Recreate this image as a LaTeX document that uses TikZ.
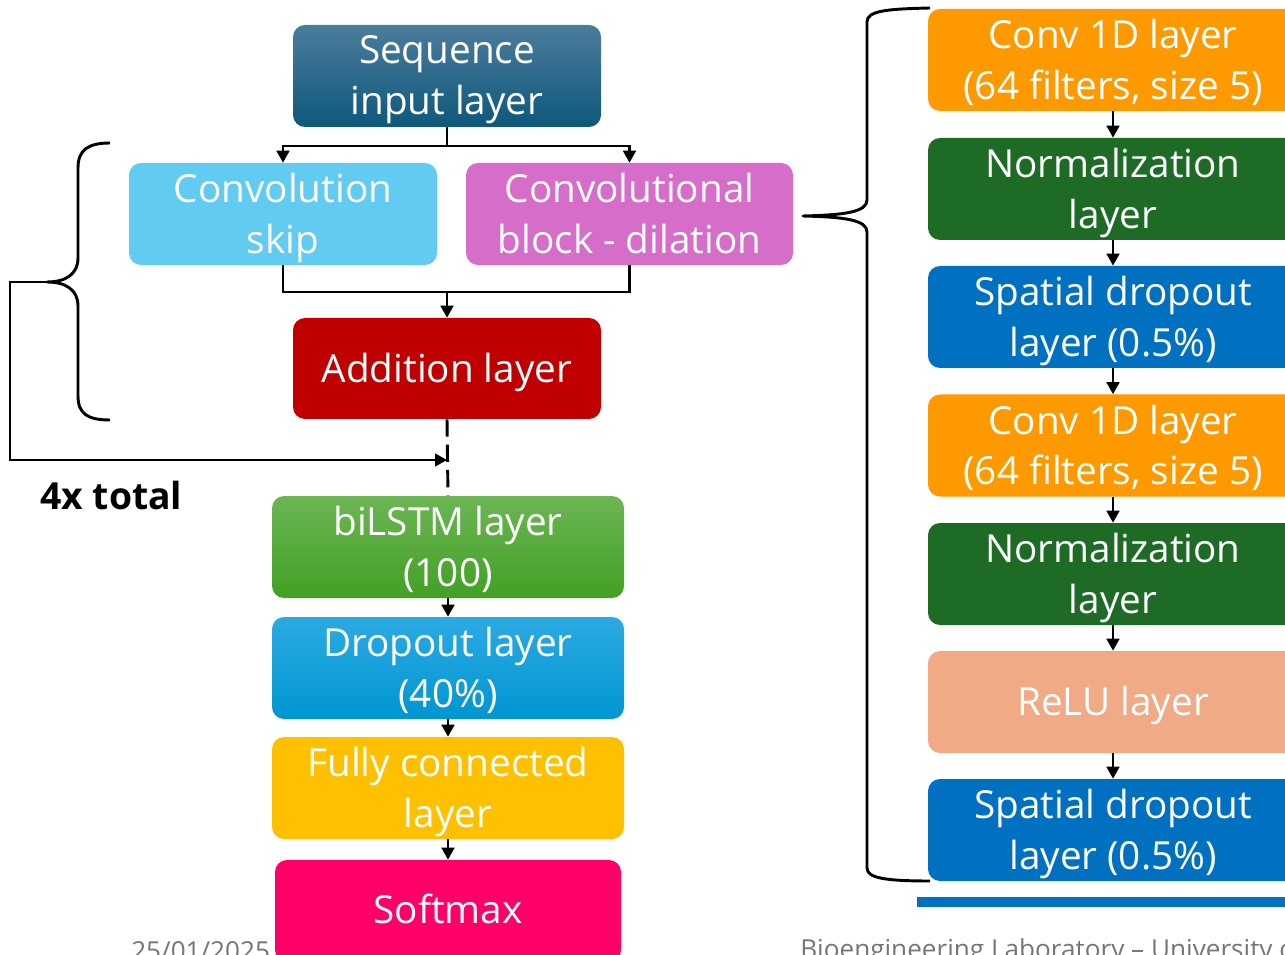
\documentclass[tikz,border=0pt]{standalone}
\usepackage{fontspec}
\setmainfont{Open Sans}
\usetikzlibrary{arrows.meta}

\definecolor{seqtop}{RGB}{76,124,156}
\definecolor{seqbot}{RGB}{14,88,124}
\definecolor{skipc}{RGB}{98,203,242}
\definecolor{dilc}{RGB}{214,110,201}
\definecolor{addc}{RGB}{192,0,0}
\definecolor{lstmtop}{RGB}{108,182,84}
\definecolor{lstmbot}{RGB}{66,160,36}
\definecolor{droptop}{RGB}{44,170,226}
\definecolor{dropbot}{RGB}{0,150,210}
\definecolor{fcc}{RGB}{255,192,0}
\definecolor{softc}{RGB}{255,0,102}
\definecolor{convc}{RGB}{255,153,0}
\definecolor{normc}{RGB}{30,107,37}
\definecolor{spatc}{RGB}{0,112,192}
\definecolor{reluc}{RGB}{240,170,134}
\definecolor{footc}{RGB}{118,118,118}

% label text: strut-spaced rows, nudged down inside an unchanged box
\newcommand\lbl[2][-3pt]{\raisebox{#1}[\height][\depth]{\begin{tabular}{@{}c@{}}#2\end{tabular}}}

\tikzset{
  layer/.style={rounded corners=9pt, text=white, inner sep=0pt,
    font=\fontsize{29}{38}\selectfont, minimum height=76.5pt},
  narrow/.style={layer, minimum width=231pt},
  wide/.style={layer, minimum width=264pt},
  side/.style={layer, minimum width=277.5pt},
  link/.style={line width=1.9pt, draw=black},
  arr/.style={link, -{Triangle[width=9.5pt,length=9pt]}},
  brace/.style={line width=2.2pt, draw=black, line join=round},
  foot/.style={text=footc, font=\fontsize{19.6}{22}\selectfont, inner sep=0pt, anchor=base west},
}

\begin{document}
\begin{tikzpicture}[x=0.75pt, y=-0.75pt]
  \useasboundingbox (0,0) rectangle (1285,955);
  \clip (0,0) rectangle (1285,955);

  % main branch
  \node[narrow, top color=seqtop, bottom color=seqbot] (seq) at (447,76) {\lbl[-2.4pt]{Sequence\\input layer}};
  \node[narrow, fill=skipc] (skip) at (283,214) {\lbl{Convolution\\skip}};
  \node[layer, minimum width=245.25pt, fill=dilc] (dil) at (629.5,214) {\lbl{Convolutional\\block - dilation}};
  \node[narrow, fill=addc, minimum height=75.75pt] (add) at (447,368.5) {\lbl[-2.6pt]{Addition layer}};
  \node[wide, top color=lstmtop, bottom color=lstmbot] (lstm) at (448,547) {\lbl{biLSTM layer\\(100)}};
  \node[wide, top color=droptop, bottom color=dropbot] (drop) at (448,668) {\lbl{Dropout layer\\(40\%)}};
  \node[wide, fill=fcc] (fc) at (448,788) {\lbl{Fully connected\\layer}};
  \node[layer, minimum width=259.5pt, fill=softc] (soft) at (448,911) {\lbl[-1.6pt]{Softmax}};

  % expanded convolutional block
  \node[side, fill=convc] (c1) at (1113,60) {\lbl{Conv 1D layer\\(64 filters, size 5)}};
  \node[side, fill=normc] (n1) at (1113,189) {\lbl{Normalization\\layer}};
  \node[side, fill=spatc] (s1) at (1113,317) {\lbl{Spatial dropout\\layer (0.5\%)}};
  \node[side, fill=convc] (c2) at (1113,445.5) {\lbl{Conv 1D layer\\(64 filters, size 5)}};
  \node[side, fill=normc] (n2) at (1113,574) {\lbl{Normalization\\layer}};
  \node[side, fill=reluc] (r1) at (1113,702) {\lbl[-2.2pt]{ReLU layer}};
  \node[side, fill=spatc] (s2) at (1113,830) {\lbl{Spatial dropout\\layer (0.5\%)}};

  % fork and merge
  \coordinate (fork) at (447,146);
  \coordinate (merge) at (447,292);
  \draw[arr] (seq.south) -- (fork) -| (skip.north);
  \draw[arr] (fork) -| (dil.north);
  \draw[link] (skip.south) |- (merge) -| (dil.south);
  \draw[arr] (merge) -- (add.north);
  \draw[link, line width=2.2pt, dash pattern=on 13pt off 6pt] (add.south) -- (lstm.north);

  % repeat loop
  \coordinate (ltip) at (47,282);
  \coordinate (lcorner) at (10,282);
  \coordinate (loopin) at (add.south |- 0,460);
  \draw[arr, line join=miter] (ltip) -- (lcorner) |- (loopin);
  \node[font=\bfseries\fontsize{28}{30}\selectfont, anchor=west, inner sep=0pt] (reps) at (40,495) {4x total};

  % tail of the network
  \draw[arr] (lstm) -- (drop);
  \draw[arr] (drop) -- (fc);
  \draw[arr] (fc) -- (soft);

  % chain inside the block
  \draw[arr] (c1) -- (n1);
  \draw[arr] (n1) -- (s1);
  \draw[arr] (s1) -- (c2);
  \draw[arr] (c2) -- (n2);
  \draw[arr] (n2) -- (r1);
  \draw[arr] (r1) -- (s2);

  % braces
  \draw[brace] (110,143) .. controls (88,143) and (78,150) .. (78,168) -- (78,258)
    .. controls (78,274) and (66,282) .. (ltip)
    .. controls (66,282) and (78,290) .. (78,306) -- (78,396)
    .. controls (78,414) and (88,420) .. (110,420);
  \coordinate (rtip) at (803,216);
  \draw[brace] (930,8) .. controls (885,9) and (867,11) .. (867,22) -- (867,200)
    .. controls (867,212) and (845,215) .. (rtip)
    .. controls (845,217) and (867,220) .. (867,232) -- (867,868)
    .. controls (867,878) and (885,881) .. (930,881);

  % footer
  \fill[spatc] (917,897) rectangle (1290,907);
  \node[foot] (date) at (131,960) {25/01/2025};
  \node[foot] (lab) at (800,958) {Bioengineering Laboratory – University of};
\end{tikzpicture}
\end{document}
